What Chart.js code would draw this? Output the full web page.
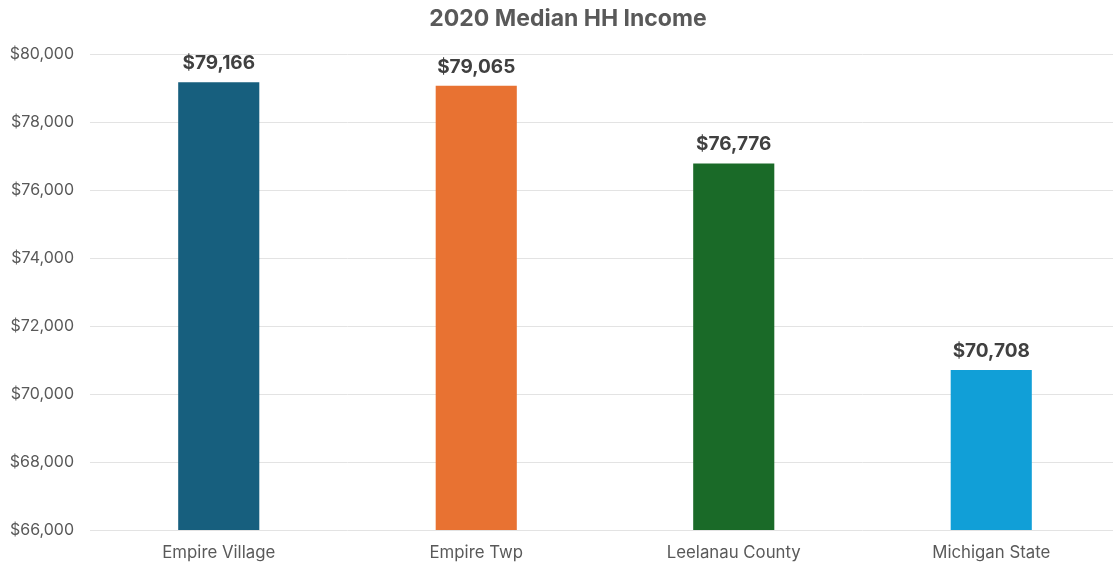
<!DOCTYPE html>
<html>
<head>
<meta charset="utf-8">
<title>2020 Median HH Income</title>
<script src="https://cdn.jsdelivr.net/npm/chart.js@4/dist/chart.umd.min.js"></script>
<style>
  html, body { margin: 0; padding: 0; background: #ffffff; overflow: hidden; }
  #wrap { position: relative; width: 1120px; height: 564px; }
</style>
</head>
<body>
<div id="wrap"><canvas id="chart"></canvas></div>
<script>
// Median household income, 2020
const chartTitle = '2020 Median HH Income';
const places = ['Empire Village', 'Empire Twp', 'Leelanau County', 'Michigan State'];
const incomes = [79166, 79065, 76776, 70708];
const barColors = ['#175f7e', '#e87232', '#1a6a28', '#119fd7'];
const axisMin = 66000;
const axisMax = 80000;
const axisStep = 2000;

const fontFamily = "Inter, 'Open Sans', 'Liberation Sans', sans-serif";
const money = v => '$' + v.toLocaleString('en-US');

// Heading, centred on the visible page width
const heading = {
  id: 'heading',
  afterDraw(chart) {
    const ctx = chart.ctx;
    ctx.save();
    ctx.font = "bold 23px " + fontFamily;
    ctx.fillStyle = '#595959';
    ctx.textAlign = 'center';
    ctx.textBaseline = 'middle';
    ctx.fillText(chartTitle, 568, 19);
    ctx.restore();
  }
};

// Writes each bar's value just above it
const valueLabels = {
  id: 'valueLabels',
  afterDatasetsDraw(chart) {
    const ctx = chart.ctx;
    const meta = chart.getDatasetMeta(0);
    ctx.save();
    ctx.font = "bold 19px " + fontFamily;
    ctx.fillStyle = '#404040';
    ctx.textAlign = 'center';
    ctx.textBaseline = 'middle';
    meta.data.forEach((bar, i) => {
      ctx.fillText(money(incomes[i]), bar.x, bar.y - 19);
    });
    ctx.restore();
  }
};

new Chart(document.getElementById('chart'), {
  type: 'bar',
  data: {
    labels: places,
    datasets: [{
      data: incomes,
      backgroundColor: barColors,
      borderWidth: 0,
      categoryPercentage: 1,
      barPercentage: 0.315
    }]
  },
  options: {
    responsive: true,
    maintainAspectRatio: false,
    animation: false,
    layout: { padding: { top: 54, right: 0, bottom: 0, left: 0 } },
    plugins: {
      legend: { display: false },
      tooltip: { enabled: false },
      title: { display: false }
    },
    scales: {
      x: {
        grid: { display: false, drawTicks: false },
        border: { display: false },
        ticks: {
          color: '#595959',
          font: { family: fontFamily, size: 16.8 },
          padding: 13,
          maxRotation: 0
        },
        afterFit(scale) { scale.height = 34; }
      },
      y: {
        min: axisMin,
        max: axisMax,
        grid: { color: '#e3e3e3', drawTicks: false, lineWidth: 1 },
        border: { display: false },
        ticks: {
          stepSize: axisStep,
          color: '#595959',
          font: { family: fontFamily, size: 16 },
          padding: 16,
          callback: v => money(v)
        },
        afterFit(scale) { scale.width = 90; }
      }
    }
  },
  plugins: [valueLabels, heading]
});
</script>
</body>
</html>
